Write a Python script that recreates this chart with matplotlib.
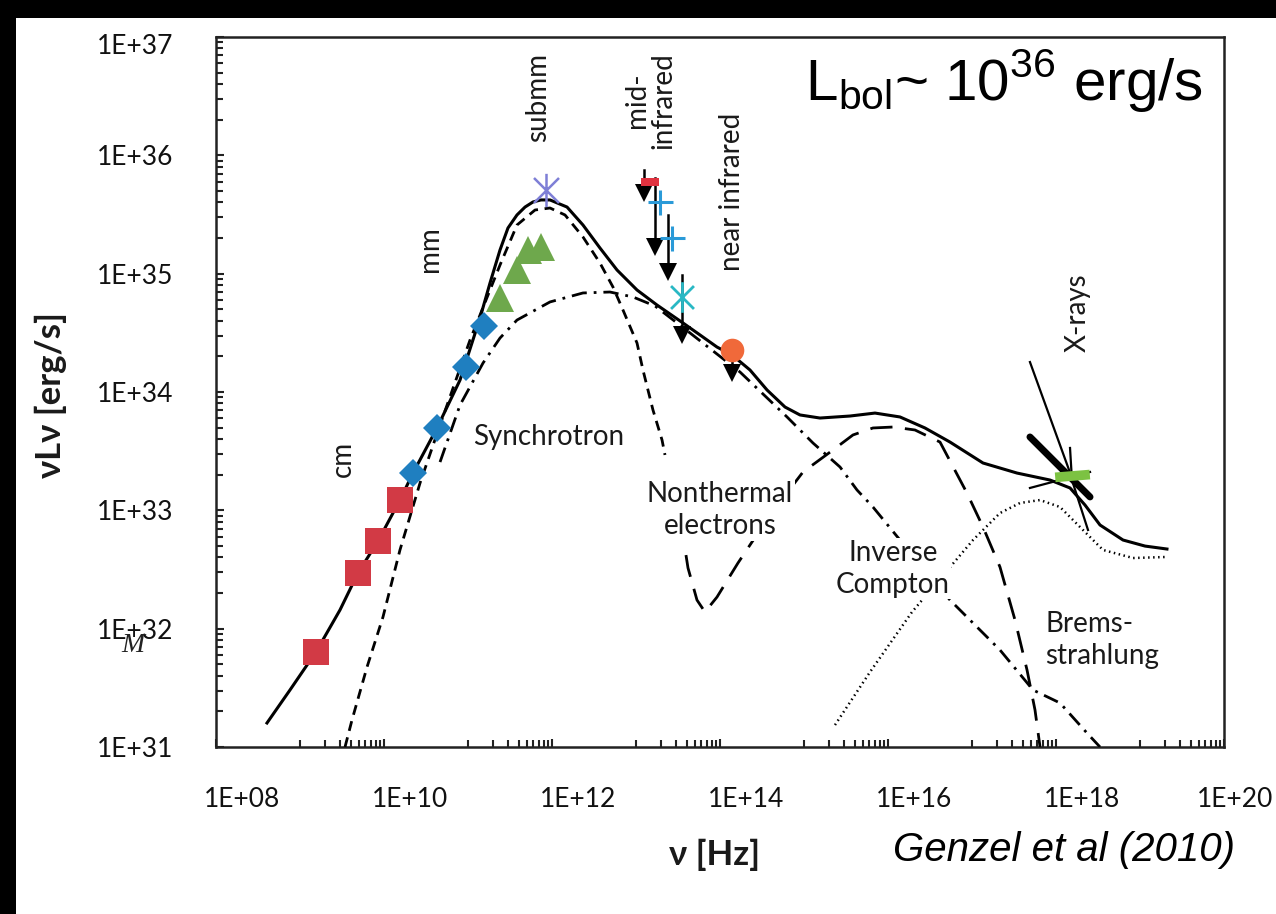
import numpy as np
import matplotlib.pyplot as plt
from matplotlib.patches import Rectangle
from matplotlib.path import Path
from matplotlib.ticker import FixedLocator, NullFormatter
from matplotlib.transforms import ScaledTranslation

plt.rcParams['font.family'] = ['Lato', 'DejaVu Sans']
plt.rcParams['mathtext.fontset'] = 'custom'
plt.rcParams['mathtext.rm'] = 'Liberation Sans'

# --- model curves, log10(nu / Hz) and log10(nu L_nu / erg s^-1) ---
total_lognu = [8.607, 8.881, 9.190, 9.476, 9.690, 9.929, 10.190, 10.345, 10.631, 10.905,
               11.143, 11.262, 11.381, 11.476, 11.583, 11.679, 11.774, 11.869, 11.976,
               12.179, 12.369, 12.571, 12.774, 13.012, 13.250, 13.560, 13.762, 13.964,
               14.143, 14.357, 14.560, 14.774, 14.952, 15.190, 15.548, 15.845, 16.143,
               16.440, 16.738, 17.131, 17.536, 17.929, 18.167, 18.345, 18.524, 18.798,
               19.060, 19.321]
total_logL = [31.203, 31.482, 31.803, 32.158, 32.470, 32.741, 33.087, 33.315, 33.696, 34.101,
              34.625, 34.921, 35.200, 35.386, 35.496, 35.563, 35.606, 35.623, 35.623,
              35.563, 35.411, 35.217, 35.031, 34.862, 34.735, 34.583, 34.482, 34.380,
              34.313, 34.186, 34.017, 33.873, 33.806, 33.780, 33.797, 33.822, 33.789,
              33.696, 33.577, 33.400, 33.315, 33.256, 33.189, 33.045, 32.876, 32.749,
              32.698, 32.673]

sync_lognu = [9.536, 9.619, 9.798, 9.988, 10.190, 10.429, 10.667, 11.024, 11.381, 11.583,
              11.798, 11.976, 12.155, 12.369, 12.571, 12.726, 12.845, 13.012, 13.083,
              13.202, 13.310, 13.345]
sync_logL = [31.0, 31.228, 31.676, 32.099, 32.665, 33.231, 33.721, 34.439, 35.073, 35.411,
             35.538, 35.555, 35.496, 35.310, 35.090, 34.887, 34.693, 34.414, 34.186,
             33.848, 33.594, 33.468]

ic_lognu = [13.595, 13.619, 13.726, 13.821, 13.964, 14.214, 14.595, 14.988, 15.345, 15.583,
            15.821, 16.060, 16.321, 16.619, 16.940, 17.131, 17.333, 17.512, 17.655,
            17.750, 17.810]
ic_logL = [32.622, 32.513, 32.242, 32.141, 32.267, 32.555, 32.960, 33.324, 33.510, 33.637,
           33.696, 33.704, 33.679, 33.577, 33.146, 32.859, 32.521, 32.073, 31.651,
           31.313, 31.0]

nonth_lognu = [10.667, 10.905, 11.179, 11.381, 11.583, 11.976, 12.369, 12.690, 12.964,
               13.226, 13.643, 14.238, 14.798, 15.107, 15.429, 15.631, 15.821, 16.143,
               16.738, 17.333, 17.726, 18.048, 18.369, 18.524]
nonth_logL = [33.408, 33.890, 34.245, 34.456, 34.608, 34.761, 34.837, 34.845, 34.803,
              34.727, 34.499, 34.169, 33.789, 33.569, 33.366, 33.172, 33.028, 32.749,
              32.242, 31.820, 31.482, 31.372, 31.118, 31.0]

brems_lognu = [15.369, 15.786, 16.286, 17.012, 17.333, 17.571, 17.810, 18.048, 18.321,
               18.560, 18.917, 19.321]
brems_logL = [31.186, 31.634, 32.141, 32.749, 32.977, 33.062, 33.087, 33.028, 32.834,
              32.665, 32.597, 32.606]

# --- measurements ---
cm_lognu = [9.190, 9.690, 9.929, 10.190]
cm_logL = [31.803, 32.470, 32.741, 33.087]
mm_lognu = [10.345, 10.631, 10.976, 11.190]
mm_logL = [33.315, 33.696, 34.211, 34.558]
submm_lognu = [11.381, 11.583, 11.714, 11.869]
submm_logL = [34.794, 35.031, 35.200, 35.225]
star_lognu, star_logL = 11.929, 35.707

mir_bar_lognu, mir_bar_logL = 13.167, 35.775
mir_cross_lognu = [13.286, 13.429]
mir_cross_logL = [35.606, 35.301]
mir_ast_lognu, mir_ast_logL = 13.548, 34.803
nir_lognu, nir_logL = 14.143, 34.355

# upper limits: (log nu, top of bar, arrow head)
limits = [(13.10, 35.876, 35.682),
          (13.226, 35.808, 35.225),
          (13.381, 35.496, 35.014),
          (13.552, 34.989, 34.482),
          (14.143, 34.300, 34.160)]

# X-ray bow tie
xray_thin = [([17.690, 18.190], [34.253, 33.273]),
             ([17.690, 18.405], [33.189, 33.324]),
             ([18.167, 18.190, 18.381], [33.527, 33.256, 32.834])]
xray_thick = ([17.690, 18.405], [33.620, 33.113])
xray_green = ([18.048, 18.345], [33.282, 33.299])


def p(v):
    return 10 ** np.asarray(v, dtype=float)


fig = plt.figure(figsize=(12.76, 9.14), dpi=100)
fig.patch.set_facecolor('black')
fig.add_artist(Rectangle((16 / 1276, 0), 1, 1 - 18 / 914, transform=fig.transFigure,
                         facecolor='white', edgecolor='none', zorder=0))
ax = fig.add_axes([216 / 1276, 1 - 747 / 914, 1008 / 1276, 710 / 914])
ax.set_xscale('log')
ax.set_yscale('log')
ax.set_xlim(1e8, 1e20)
ax.set_ylim(1e31, 1e37)

ax.plot(p(total_lognu), p(total_logL), color='black', lw=2.2, zorder=3)
ax.plot(p(sync_lognu), p(sync_logL), color='black', lw=2, ls=(0, (3.6, 2.4)), zorder=3)
ax.plot(p(ic_lognu), p(ic_logL), color='black', lw=2, ls=(0, (8, 4.5)), zorder=3)
ax.plot(p(nonth_lognu), p(nonth_logL), color='black', lw=2,
        ls=(0, (5.5, 2.5, 1, 2.5)), zorder=3)
ax.plot(p(brems_lognu), p(brems_logL), color='black', lw=1.8, ls=(0, (0.6, 1.4)), zorder=3)

# upper-limit arrows
for lnu, top, head in limits:
    ax.plot(p([lnu, lnu]), p([top, head]), color='black', lw=1.8, zorder=5)
    ax.plot(p(lnu), p(head), marker='v', color='black', ms=13, mew=0, zorder=5)

ax.plot(p(cm_lognu), p(cm_logL), 's', color='#d23a45', ms=19, mew=0, zorder=6)
ax.plot(p(mm_lognu), p(mm_logL), 'D', color='#1f7fc0', ms=14, mew=0, zorder=6)
ax.plot(p(submm_lognu), p(submm_logL), '^', color='#6ea84c', ms=20, mew=0, zorder=6)

asterisk = Path([(0, -1), (0, 1), (-0.75, -0.75), (0.75, 0.75), (-0.75, 0.75), (0.75, -0.75)],
                [Path.MOVETO, Path.LINETO] * 3)
ax.plot(p(star_lognu), p(star_logL), marker=asterisk, color='#7e7fd6', ms=24, mew=1.8,
        mfc='none', zorder=6)
ax.plot(p(mir_ast_lognu), p(mir_ast_logL), marker=asterisk, color='#29b8c4', ms=22,
        mew=2, mfc='none', zorder=6)
ax.plot(p(mir_cross_lognu), p(mir_cross_logL), '+', color='#2a9ad8', ms=18, mew=2.2,
        ls='none', zorder=6)
bar = Path([(-1, -0.45), (1, -0.45), (1, 0.45), (-1, 0.45), (-1, -0.45)])
ax.plot(p(mir_bar_lognu), p(mir_bar_logL), marker=bar, color='#e0323f', ms=13, mew=0,
        zorder=6)
ax.plot(p(nir_lognu), p(nir_logL), 'o', color='#f0693a', ms=17, mew=0, zorder=6)

for xs, ys in xray_thin:
    ax.plot(p(xs), p(ys), color='black', lw=1.6, zorder=5)
ax.plot(p(xray_thick[0]), p(xray_thick[1]), color='black', lw=5, solid_capstyle='round',
        zorder=5)
ax.plot(p(xray_green[0]), p(xray_green[1]), color='#7cc242', lw=7, zorder=6)

# axis styling
for s in ax.spines.values():
    s.set_linewidth(1.8)
    s.set_color('#222222')
ax.xaxis.set_major_locator(FixedLocator([10.0 ** e for e in range(8, 21, 2)]))
ax.xaxis.set_minor_locator(FixedLocator([k * 10.0 ** e for e in range(9, 20, 2)
                                         for k in range(1, 10)]))
ax.xaxis.set_minor_formatter(NullFormatter())
ax.set_xticklabels(['1E+%02d' % e for e in range(8, 21, 2)])
ax.yaxis.set_major_locator(FixedLocator([10.0 ** e for e in range(31, 38)]))
ax.yaxis.set_minor_locator(FixedLocator([k * 10.0 ** e for e in range(31, 37)
                                         for k in range(2, 10)]))
ax.yaxis.set_minor_formatter(NullFormatter())
ax.set_yticklabels(['1E+%d' % e for e in range(31, 38)])
ax.tick_params(which='both', direction='in', width=1.5, color='#222222',
               top=False, right=False, labelsize=19, labelcolor='#111111')
ax.tick_params(which='major', length=6)
ax.tick_params(which='minor', length=5)
ax.tick_params(axis='x', pad=29)
ax.tick_params(axis='y', pad=31)
fig.canvas.draw()
shifts = [26, 26, 26, 26, 26, 26, 11]
for lab, dx in zip(ax.get_xticklabels(), shifts):
    lab.set_transform(lab.get_transform() + ScaledTranslation(dx / 100, 0, fig.dpi_scale_trans))
top_label = ax.get_yticklabels()[-1]
top_label.set_transform(top_label.get_transform() + ScaledTranslation(0, -0.07, fig.dpi_scale_trans))

# band and component labels
band = dict(rotation=90, ha='center', va='center', fontsize=20, color='#1a1a1a')
ax.text(3.2e9, 2.7e33, 'cm', **band)
ax.text(3.5e10, 1.6e35, 'mm', **band)
ax.text(6.8e11, 3.1e36, 'submm', **band)
ax.text(1.47e13, 2.9e36, 'mid-\ninfrared', multialignment='center', linespacing=1.0, **band)
ax.text(1.4e14, 4.9e35, 'near infrared', **band)
ax.text(1.8e18, 4.7e34, 'X-rays', **band)

comp = dict(ha='center', va='center', fontsize=20, color='#1a1a1a', linespacing=1.3)
ax.text(9.2e11, 4.2e33, 'Synchrotron', **comp)
ax.text(1.0e14, 1.0e33, 'Nonthermal\nelectrons', zorder=4,
        bbox=dict(facecolor='white', edgecolor='none', pad=1), **comp)
ax.text(1.15e16, 3.2e32, 'Inverse\nCompton', zorder=4,
        bbox=dict(facecolor='white', edgecolor='none', pad=1), **comp)
ax.text(7.4e17, 8.0e31, 'Brems-\nstrahlung', ha='left', va='center', fontsize=20,
        color='#1a1a1a', linespacing=1.3)

fig.text(0.040, 0.568, 'νLν [erg/s]', rotation=90, ha='center', va='center',
         fontsize=25, fontweight='bold', color='#1a1a1a')
fig.text(0.560, 0.0646, 'ν [Hz]', ha='center', va='center', fontsize=25,
         fontweight='bold', color='#1a1a1a')
fig.text(0.631, 0.8895, r'L$_{\rm bol}$~ 10$^{36}$ erg/s', ha='left', va='baseline',
         fontsize=42, family='Liberation Sans', color='black')
fig.text(0.834, 0.070, 'Genzel et al (2010)', ha='center', va='center', fontsize=29,
         style='italic', family='Liberation Sans', color='black')
fig.text(0.104, 0.294, 'M', ha='center', va='center', fontsize=20, style='italic',
         family='Liberation Serif', color='#222222')

fig.savefig('out.png', dpi=100, facecolor=fig.get_facecolor())
